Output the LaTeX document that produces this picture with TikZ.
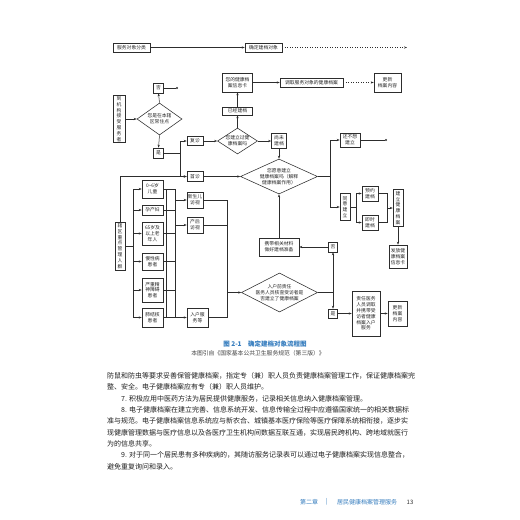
\documentclass[tikz,border=0pt]{standalone}
\usepackage{fontspec}
\newfontfamily\cjk{Noto Sans CJK SC}
\usetikzlibrary{arrows.meta,shapes.geometric,calc}
\definecolor{capblue}{RGB}{52,124,190}
\definecolor{ln}{RGB}{45,45,45}
\begin{document}
\begin{tikzpicture}[x=1pt,y=-1pt,
  every node/.style={font=\cjk\fontsize{4.8}{5.8}\selectfont, inner sep=0pt, align=center, text=black!85},
  bx/.style={draw=ln, line width=0.55pt, rectangle},
  wh/.style 2 args={minimum width=#1pt, minimum height=#2pt},
  dm/.style={draw=ln, line width=0.55pt, diamond, inner sep=0pt},
  conn/.style={draw=ln, line width=0.5pt},
  arr/.style={conn, -{Stealth[length=3pt,width=2.2pt]}},
  dotarr/.style={arr, dotted},
  dotend/.style={circle, fill=ln, inner sep=0pt, minimum size=2.2pt},
  body/.style={font=\cjk\fontsize{7}{8}\selectfont, anchor=west, align=left, text=black!88},
]
\useasboundingbox[fill=white] (0,0) rectangle (520,520);

% ---------- top row ----------
\node[bx, wh={37}{9}] (cls) at (131.5,47.5) {服务对象分类};
\node[bx, wh={37}{9}] (det) at (263.5,47.5) {确定建档对象};
\coordinate (topend) at (407,47.5);
\draw[arr] (cls.east) -- (det.west);
\draw[dotarr] (det.east) -- (topend);

% ---------- institution branch ----------
\node[bx, wh={12}{47}] (inst) at (119,119) {到\\机\\构\\接\\受\\服\\务\\者};
\node[dm, minimum width=45pt, minimum height=32pt] (d1) at (159.5,119) {};
\node (d1t) at (d1) {您是在本辖\\区常住点};
\node[bx, wh={10}{10}] (no1) at (158.5,88) {否};
\node[dotend] (dot1) at (177,88) {};
\node[bx, wh={10}{10}] (yes1) at (158.5,153) {是};
\draw[arr] (inst.east) -- (d1.west);
\draw[arr] (d1.north) -- (no1.south);
\draw[conn] (no1.east) -- (dot1);
\draw[arr] (d1.south) -- (yes1.north);

\node[bx, wh={16}{9}] (fz) at (195,141) {复诊};
\node[bx, wh={16}{10}] (sz) at (195,176.5) {首诊};
\coordinate (j1) at (180,153);
\draw[conn] (yes1.east) -- (j1);
\draw[arr] (j1) |- (fz.west);
\draw[arr] (j1) |- (sz.west);

\node[dm, minimum width=40pt, minimum height=26pt] (d2) at (237.5,141) {};
\node (d2t) at (d2) {您建立过健\\康档案吗};
\node[bx, wh={30}{8}] (yj) at (237.5,111) {已经建档};
\node[bx, wh={30}{19}] (card) at (237.5,82.5) {您的健康档\\案信息卡};
\node[bx, wh={63}{9}] (fetch) at (311.5,82.5) {调取服务对象的健康档案};
\node[bx, wh={27}{19}] (upd1) at (387.5,82.5) {更新\\档案内容};
\node[bx, wh={15}{15}] (wj) at (279,141) {尚未\\建档};
\draw[arr] (fz.east) -- (d2.west);
\draw[arr] (d2.north) -- (yj.south);
\draw[arr] (yj.north) -- (card.south);
\draw[arr] (card.east) -- (fetch.west);
\draw[dotarr] (fetch.east) -- (upd1.west);
\draw[arr] (d2.east) -- (wj.west);

% ---------- willing diamond ----------
\node[dm, minimum width=77pt, minimum height=35pt] (d3) at (279,176.5) {};
\node (d3t) at (d3) {您愿意建立\\健康档案吗（解释\\健康档案作用）};
\draw[arr] (wj.south) -- (d3.north);
\draw[arr] (sz.east) -- (d3.west);

\node[bx, wh={20}{14}] (nw) at (350,140) {还不想\\建立};
\node[dotend] (dot2) at (386,140) {};
\node[bx, wh={10}{27}] (agree) at (345,207) {同\\意\\建\\立};
\node[bx, wh={16}{15}] (appt) at (370,193.5) {预约\\建档};
\node[bx, wh={16}{15}] (inst2) at (370,222.5) {即时\\建档};
\node[bx, wh={10}{37}] (build) at (398,208) {建\\立\\健\\康\\档\\案};
\node[bx, wh={18}{23}] (issue) at (398,256.5) {发放健\\康档案\\信息卡};
\coordinate (j3) at (330,176.5);
\coordinate (j4) at (356,207);
\coordinate (j5) at (387,208);
\draw[conn] (d3.east) -- (j3);
\draw[arr] (j3) |- (nw.west);
\draw[arr] (j3) |- (agree.west);
\draw[conn] (nw.east) -- (dot2);
\draw[conn] (agree.east) -- (j4);
\draw[arr] (j4) |- (appt.west);
\draw[arr] (j4) |- (inst2.west);
\draw[conn] (appt.east) -| (j5);
\draw[conn] (inst2.east) -| (j5);
\draw[arr] (j5) -- (build.west);
\draw[arr] (build.south) -- (issue.north);

% ---------- key population ----------
\node[bx, wh={10}{48}] (key) at (120,246) {辖\\区\\重\\点\\管\\理\\人\\群};
\draw[arr] (key.north) |- (sz.west);

\node[bx, wh={21}{18}] (c1) at (152.5,189) {0\textasciitilde 6岁\\儿童};
\node[bx, wh={21}{10}] (c2) at (152.5,210) {孕产妇};
\node[bx, wh={21}{23}] (c3) at (152.5,233.5) {65岁及\\以上老\\年人};
\node[bx, wh={21}{17}] (c4) at (152.5,261.5) {慢性病\\患者};
\node[bx, wh={21}{24}] (c5) at (152.5,290) {严重精\\神障碍\\患者};
\node[bx, wh={21}{19}] (c6) at (152.5,317.5) {肺结核\\患者};

\coordinate (b1t) at (133,189);
\coordinate (b1b) at (133,317.5);
\coordinate (b3t) at (166,189);
\coordinate (b3b) at (166,317.5);
\coordinate (b2t) at (175,189);
\coordinate (b2b) at (175,317.5);
\draw[conn] (key.east) -- (key.east -| b1t);
\draw[conn] (b1t) -- (b1b);
\draw[conn] (b3t) -- (b3b);
\draw[conn] (b2t) -- (b2b);
\foreach \c in {c1,c2,c3,c4,c5,c6}{
  \draw[arr] (\c.west -| b1t) -- (\c.west);
  \draw[conn] (\c.east) -- (\c.east -| b2t);
}

\node[bx, wh={16}{16}] (nb) at (195,200) {新生儿\\访视};
\node[bx, wh={16}{16}] (pp) at (195,225) {产后\\访视};
\node[bx, wh={21}{19}] (home) at (197.5,317.5) {入户服\\务等};
\draw[arr] (nb.west -| b2t) -- (nb.west);
\draw[arr] (pp.west -| b2t) -- (pp.west);
\draw[arr] (home.west -| b2t) -- (home.west);

\node[dm, minimum width=76pt, minimum height=39pt] (d4) at (279.5,292.5) {};
\node (d4t) at (d4) {入户前责任\\医务人员核查受访者是\\否建立了健康档案};
\coordinate (b4t) at (227,200);
\coordinate (b4b) at (227,317.5);
\draw[conn] (nb.east) -- (nb.east -| b4t);
\draw[conn] (pp.east) -- (pp.east -| b4t);
\draw[conn] (home.east) -- (home.east -| b4t);
\draw[conn] (b4t) -- (b4b);
\draw[arr] (d4.west -| b4t) -- (d4.west);

\node[bx, wh={9}{10}] (no2) at (333,247) {否};
\node[bx, wh={9}{9}] (yes2) at (333,313.5) {是};
\node[bx, wh={40}{18}] (prep) at (279,247) {携带相关材料\\做好建档准备};
\node[bx, wh={28}{45}] (resp) at (366,313.5) {责任医务\\人员调取\\并携带受\\访者健康\\档案入户\\服务};
\node[bx, wh={19}{25}] (upd2) at (397.5,313.5) {更新\\档案\\内容};
\coordinate (j6) at (333,292.5);
\draw[conn] (d4.east) -- (j6);
\draw[arr] (j6) -- (no2.south);
\draw[arr] (j6) -- (yes2.north);
\draw[arr] (no2.west) -- (prep.east);
\draw[arr] (prep.north) -- (d3.south);
\draw[arr] (yes2.east) -- (resp.west);
\draw[arr] (resp.east) -- (upd2.west);

% ---------- caption ----------
\node[font=\cjk\bfseries\fontsize{6.5}{7}\selectfont, text=capblue] (cap) at (265,344) {图 2-1\quad 确定建档对象流程图};
\node[font=\cjk\fontsize{5.8}{6.5}\selectfont, text=black!75] (src) at (258,353) {本图引自《国家基本公共卫生服务规范（第三版）》};

% ---------- body text ----------
\node[body] (t1) at (107,376) {防鼠和防虫等要求妥善保管健康档案，指定专（兼）职人员负责健康档案管理工作，保证健康档案完};
\node[body] (t2) at (107,387.3) {整、安全。电子健康档案应有专（兼）职人员维护。};
\node[body] (t3) at (121,398.6) {7. 积极应用中医药方法为居民提供健康服务，记录相关信息纳入健康档案管理。};
\node[body] (t4) at (121,409.9) {8. 电子健康档案在建立完善、信息系统开发、信息传输全过程中应遵循国家统一的相关数据标};
\node[body] (t5) at (107,421.2) {准与规范。电子健康档案信息系统应与新农合、城镇基本医疗保险等医疗保障系统相衔接，逐步实};
\node[body] (t6) at (107,432.5) {现健康管理数据与医疗信息以及各医疗卫生机构间数据互联互通，实现居民跨机构、跨地域就医行};
\node[body] (t7) at (107,443.8) {为的信息共享。};
\node[body] (t8) at (121,455.1) {9. 对于同一个居民患有多种疾病的，其随访服务记录表可以通过电子健康档案实现信息整合，};
\node[body] (t9) at (107,466.4) {避免重复询问和录入。};

% ---------- footer ----------
\node[font=\cjk\fontsize{6}{7}\selectfont, text=capblue] (f1) at (309,502) {第二章};
\node[font=\cjk\fontsize{6}{7}\selectfont, text=capblue] (f2) at (327,502) {|};
\node[font=\cjk\fontsize{6}{7}\selectfont, text=capblue] (f3) at (367,502) {居民健康档案管理服务};
\node[font=\cjk\fontsize{6}{7}\selectfont, text=black!80] (f4) at (410,502) {13};
\end{tikzpicture}
\end{document}
